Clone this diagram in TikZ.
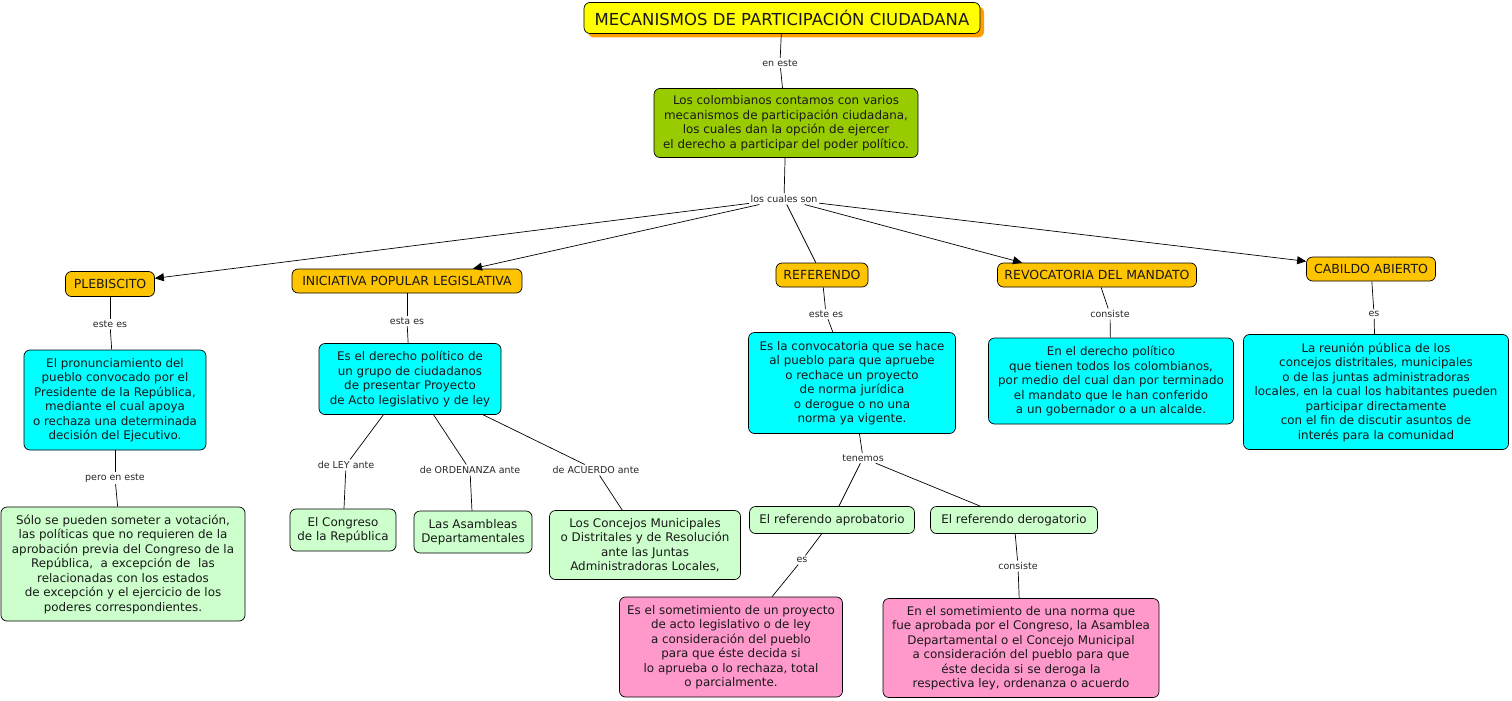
\documentclass[tikz,border=0pt]{standalone}
\usepackage{fontspec}
\setmainfont{DejaVu Sans}
\usetikzlibrary{arrows.meta,shadows}
\definecolor{titleyellow}{RGB}{255,255,0}
\definecolor{titleshadow}{RGB}{255,160,0}
\definecolor{maingreen}{RGB}{153,204,0}
\definecolor{mechorange}{RGB}{255,196,0}
\definecolor{defcyan}{RGB}{0,255,255}
\definecolor{palegreen}{RGB}{204,255,204}
\definecolor{defpink}{RGB}{255,153,204}
\begin{document}
\begin{tikzpicture}[x=1pt, y=-1pt, line width=0.7pt,
  concept/.style={rectangle, rounded corners=6pt, draw=black, align=center, inner sep=0pt, text=black!90, font=\fontsize{11.9}{14.5}\selectfont},
  link/.style={inner sep=1.5pt, text=black!85, font=\fontsize{9.5}{11}\selectfont}]
\tikzset{mech/.style={concept, fill=mechorange, font=\fontsize{12.5}{15}\selectfont, minimum height=24pt},
         def/.style={concept, fill=defcyan},
         target/.style={concept, fill=palegreen},
         pinkdef/.style={concept, fill=defpink}}
\useasboundingbox (0,0) rectangle (1512,701);

\node[concept, fill=titleyellow, minimum width=396pt, minimum height=31pt, font=\fontsize{16.5}{19}\selectfont,
  drop shadow={fill=titleshadow, opacity=1, shadow xshift=4pt, shadow yshift=-4pt}] (0) at (782,18) {MECANISMOS DE PARTICIPACIÓN CIUDADANA};
\node[concept, fill=maingreen, minimum width=264pt, minimum height=69pt] (1) at (786,123) {Los colombianos contamos con varios\\mecanismos de participación ciudadana,\\los cuales dan la opción de ejercer\\el derecho a participar del poder político.};

\node[mech, minimum width=89pt, minimum height=25pt] (2) at (110,284) {PLEBISCITO};
\node[mech, minimum width=230pt] (3) at (407,281) {INICIATIVA POPULAR LEGISLATIVA};
\node[mech, minimum width=92pt] (4) at (822,275) {REFERENDO};
\node[mech, minimum width=199pt] (5) at (1097,275) {REVOCATORIA DEL MANDATO};
\node[mech, minimum width=129pt] (6) at (1371,269) {CABILDO ABIERTO};

\node[def, minimum width=182pt, minimum height=100pt] (7) at (115,400) {El pronunciamiento del\\pueblo convocado por el\\Presidente de la República,\\mediante el cual apoya\\o rechaza una determinada\\decisión del Ejecutivo.};
\node[target, minimum width=244pt, minimum height=114pt] (8) at (123,564) {Sólo se pueden someter a votación,\\las políticas que no requieren de la\\aprobación previa del Congreso de la\\República,\ \ a excepción de\ \ las\\relacionadas con los estados\\de excepción y el ejercicio de los\\poderes correspondientes.};

\node[def, minimum width=182pt, minimum height=71pt] (9) at (410,379) {Es el derecho político de\\un grupo de ciudadanos\\de presentar Proyecto\\de Acto legislativo y de ley};
\node[target, minimum width=106pt, minimum height=42pt] (10) at (343,530) {El Congreso\\de la República};
\node[target, minimum width=118pt, minimum height=42pt] (11) at (473,532) {Las Asambleas\\Departamentales};
\node[target, minimum width=191pt, minimum height=69pt] (12) at (645,545) {Los Concejos Municipales\\o Distritales y de Resolución\\ante las Juntas\\Administradoras Locales,};

\node[def, minimum width=207pt, minimum height=101pt] (13) at (852,383) {Es la convocatoria que se hace\\al pueblo para que apruebe\\o rechace un proyecto\\de norma jurídica\\o derogue o no una\\norma ya vigente.};
\node[target, minimum width=165pt, minimum height=27pt] (14) at (832,520) {El referendo aprobatorio};
\node[target, minimum width=167pt, minimum height=27pt] (15) at (1014,520) {El referendo derogatorio};
\node[pinkdef, minimum width=223pt, minimum height=100pt] (16) at (731,647) {Es el sometimiento de un proyecto\\de acto legislativo o de ley\\a consideración del pueblo\\para que éste decida si\\lo aprueba o lo rechaza, total\\o parcialmente.};
\node[pinkdef, minimum width=276pt, minimum height=99pt] (17) at (1021,648) {En el sometimiento de una norma que\\fue aprobada por el Congreso, la Asamblea\\Departamental o el Concejo Municipal\\a consideración del pueblo para que\\éste decida si se deroga la\\respectiva ley, ordenanza o acuerdo};

\node[def, minimum width=245pt, minimum height=86pt] (18) at (1111,381) {En el derecho político\\que tienen todos los colombianos,\\por medio del cual dan por terminado\\el mandato que le han conferido\\a un gobernador o a un alcalde.};
\node[def, minimum width=265pt, minimum height=115pt] (19) at (1376,392) {La reunión pública de los\\concejos distritales, municipales\\o de las juntas administradoras\\locales, en la cual los habitantes pueden\\participar directamente\\con el fin de discutir asuntos de\\interés para la comunidad};

% linking phrases
\node[link] (l0) at (780,63) {en este};
\node[link] (l1) at (784,199) {los cuales son};
\node[link] (l2) at (110,324) {este es};
\node[link] (l3) at (115,478) {pero en este};
\node[link] (l4) at (407,321) {esta es};
\node[link] (l5) at (346,465) {de LEY ante};
\node[link] (l6) at (470,470) {de ORDENANZA ante};
\node[link] (l7) at (596,470) {de ACUERDO ante};
\node[link] (l8) at (826,314) {este es};
\node[link] (l9) at (863,458) {tenemos};
\node[link] (l10) at (802,560) {es};
\node[link] (l11) at (1018,566) {consiste};
\node[link] (l12) at (1110,314) {consiste};
\node[link] (l13) at (1374,314) {es};

\path[draw, >={Triangle[length=9pt,width=8pt]}]
(0) edge (l0)
(l0) edge (1)
(1) edge (l1)
(l1) edge[->] (2)
     edge[->] ([xshift=66pt]3.north)
     edge (4)
     edge[->] ([xshift=-75pt]5.north)
     edge[->] (6)
(2) edge (l2)
(l2) edge (7)
(7) edge (l3)
(l3) edge (8)
(3) edge (l4)
(l4) edge (9)
(9) edge (l5)
    edge (l6)
    edge (l7)
(l5) edge (10)
(l6) edge (11)
(l7) edge (12)
(4) edge (l8)
(l8) edge (13)
(13) edge (l9)
(l9) edge (14)
     edge (15)
(14) edge (l10)
(l10) edge (16)
(15) edge (l11)
(l11) edge (17)
(5) edge (l12)
(l12) edge (18)
(6) edge (l13)
(l13) edge (19)
;
\end{tikzpicture}
\end{document}
